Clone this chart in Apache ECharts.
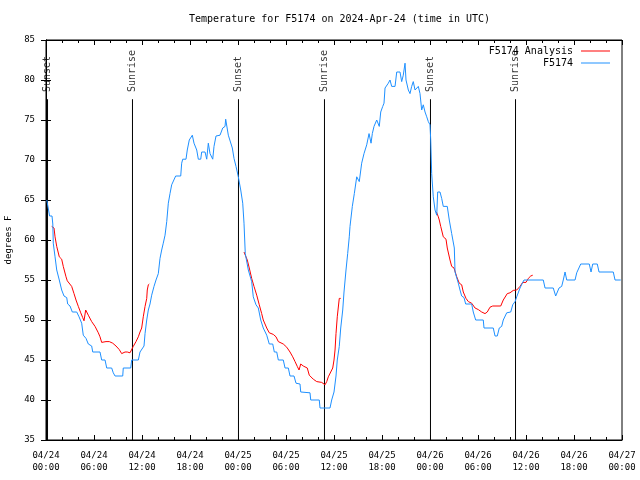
<!DOCTYPE html>
<html>
<head>
<meta charset="utf-8">
<script src="https://cdn.jsdelivr.net/npm/echarts@6/dist/echarts.min.js"></script>
<style>html,body{margin:0;padding:0;background:#fff}#c{width:640px;height:480px}</style>
</head>
<body>
<div id="c"></div>
<script>
// x values are hours since 2024-04-24 00:00 UTC
const xTickLabels = ['04/24\n00:00','04/24\n06:00','04/24\n12:00','04/24\n18:00','04/25\n00:00','04/25\n06:00','04/25\n12:00','04/25\n18:00','04/26\n00:00','04/26\n06:00','04/26\n12:00','04/26\n18:00','04/27\n00:00'];
const yTicks = [35,40,45,50,55,60,65,70,75,80,85];

const sunTimes = [0.19, 10.81, 24.06, 34.81, 48.06, 58.69];
const sunLabels = ['Sunset','Sunrise','Sunset','Sunrise','Sunset','Sunrise'];

const obsHours = [0.1,0.35,0.45,0.75,0.85,0.91,1.13,1.34,1.66,1.96,2.25,2.59,2.71,3.0,3.29,3.84,4.13,4.46,4.66,5.0,5.29,5.71,5.84,6.75,6.96,7.38,7.59,8.21,8.41,8.63,9.59,9.66,10.59,10.71,11.54,11.75,12.0,12.25,12.38,12.59,12.79,13.0,13.21,13.5,13.75,14.04,14.25,14.46,14.66,14.88,15.09,15.29,15.5,15.71,15.91,16.21,16.84,16.96,17.09,17.5,17.66,17.91,18.29,18.5,18.84,19.04,19.34,19.46,19.88,20.09,20.29,20.5,20.84,21.0,21.25,21.75,22.09,22.38,22.46,22.79,23.0,23.29,23.5,23.75,24.04,24.34,24.59,24.75,24.91,25.29,25.71,25.91,26.25,26.54,26.84,27.16,27.59,27.91,28.34,28.54,28.84,29.04,29.66,29.88,30.29,30.5,31.0,31.25,31.75,31.84,33.0,33.09,34.16,34.25,35.5,35.71,36.0,36.25,36.41,36.66,36.84,37.09,37.25,37.5,37.71,37.91,38.0,38.29,38.54,38.84,39.16,39.46,39.75,40.09,40.38,40.63,40.79,41.0,41.34,41.66,41.84,42.09,42.25,42.38,42.79,43.0,43.21,43.63,43.84,44.25,44.46,44.66,44.88,45.0,45.29,45.5,45.71,45.91,46.13,46.34,46.54,46.75,46.96,47.16,47.38,47.59,47.79,48.0,48.09,48.21,48.41,48.63,48.84,48.96,49.25,49.46,49.66,50.16,50.41,50.71,51.04,51.13,51.34,51.54,51.75,51.96,52.25,52.46,53.21,53.41,53.71,54.66,54.75,55.91,56.13,56.41,56.66,56.96,57.16,57.59,58.09,58.34,58.63,58.84,59.04,59.25,59.54,59.75,62.16,62.38,63.41,63.71,63.91,64.13,64.46,64.66,64.88,65.09,66.13,66.34,66.54,66.84,67.91,68.13,68.34,68.91,69.13,70.91,71.13,71.84];
const obsTemps = [65,65,63,63,62,59.6,57.9,56.25,55,53.75,53,52.8,52,51.75,51,51,50.4,49.6,48.1,47.7,47,46.75,46,46,45,45,44,44,43.4,43,43,44,44,45,45,46,46,46.75,48.3,50,51.25,52,53.1,54.2,55,55.8,57.7,58.75,59.6,60.6,62.3,64.6,65.8,66.9,67.1,68,68,69.6,70.1,70.1,71.25,72.5,73.1,72.1,71.25,70.1,70.1,71,71,70.1,72.1,70.8,70.1,71.7,73,73.1,74,74.2,75.1,73.1,72.9,71.5,70.2,69.2,67.9,66.25,64.6,62.1,58.3,56.25,54.8,52.9,51.9,51.5,50,49,48.1,47,47,46,46,45,45,44,44,43,43,42.1,42,41,40.9,40,40,39,39,40,41,43,45,46.7,49,51.25,53.5,56.25,58.3,60.4,61.7,64.2,65.8,67.9,67.3,69.6,70.8,71.9,73.3,72.1,73.3,74.2,75,74.2,76,76.7,77.1,79,79.6,80,79.2,79.2,81,81,79.8,80.6,82.1,80,78.75,78.3,79.2,79.8,78.75,79,79.2,78.3,76.25,76.9,76,75.4,74.8,74.4,72.5,68.3,65.4,63.75,63.1,66,66,65.2,64.2,64.2,62.5,60.8,59,56,55.8,54.6,53.75,53,52.8,52,52,51,50,50,49,49,48,48,49,49.2,50,50.9,51,51.9,52.3,52.9,53,54,54.6,55,55,54,54,53,53,54,54.2,55,56,55,55,55.9,56,57,57,56,57,57,56,56,55,55];

const anaHours = [0.71,1.0,1.13,1.34,1.66,1.96,2.16,2.5,2.66,2.91,3.21,3.5,3.75,4.04,4.34,4.59,4.75,4.96,5.29,5.71,6.13,6.54,6.75,6.96,7.5,7.91,8.34,8.75,9.16,9.46,9.66,9.88,10.16,10.5,10.71,10.91,11.25,11.54,11.75,11.96,12.16,12.38,12.59,12.66,12.79,12.91,
  18.0,
  24.75,25.0,25.16,25.41,25.71,26.0,26.34,26.66,26.96,27.16,27.59,27.91,28.41,28.75,29.04,29.66,30.09,30.5,30.84,31.13,31.41,31.63,31.84,32.16,32.66,32.91,33.41,33.84,34.46,34.88,35.09,35.29,35.59,35.84,36.0,36.13,36.25,36.41,36.66,36.84,
  42.0,
  48.81,49.04,49.16,49.34,49.66,50.0,50.16,50.5,50.71,51.0,51.34,51.66,51.96,52.16,52.5,52.79,53.21,53.63,54.04,54.46,54.88,55.16,55.5,55.84,56.84,57.16,57.66,58.0,58.41,58.84,59.25,59.59,60.0,60.29,60.59,60.84];
const anaTemps = [61.7,61.5,60.4,59.2,57.9,57.6,56.7,55.4,54.9,54.8,54.2,53.3,52.5,51.7,50.9,50.3,49.9,51.25,50.6,49.8,49.2,48.4,47.9,47.2,47.3,47.3,47.1,46.75,46.3,45.8,45.6,46,46,45.9,45.8,46.7,47.3,47.9,48.5,49,50.4,51.7,52.7,53.75,54.4,54.5,
  null,
  58.5,58.3,57.5,56.5,55.2,54.2,53.1,51.9,50.8,50,49,48.4,48.2,47.9,47.3,47,46.6,46,45.4,44.8,44.2,43.75,44.5,44.25,44,43.1,42.6,42.3,42.2,41.9,42.3,42.9,43.5,44,45,46.25,48.3,50.4,52.7,52.7,
  null,
  63.5,62.9,62.5,61.7,60.4,60.1,59,57.5,56.7,56.5,55.4,54.6,54.4,53.5,52.7,52.3,52.1,51.5,51.3,51,50.8,51,51.6,51.75,51.75,52.5,53.3,53.4,53.7,53.75,54.2,54.7,54.7,55.2,55.5,55.6];

const FONT = 'DejaVu Sans Mono';
const zip = (a, b) => a.map((v, i) => [v, b[i]]);

const sunSeries = sunTimes.map((t, i) => ({
  type: 'line', silent: true, symbol: 'none', z: 1,
  lineStyle: { color: '#000', width: 1 },
  data: [[t, 77.6], [t, 35]]
}));

const chart = echarts.init(document.getElementById('c'), null, { renderer: 'canvas' });
chart.setOption({
  animation: false,
  backgroundColor: '#fff',
  title: {
    text: 'Temperature for F5174 on 2024-Apr-24 (time in UTC)',
    left: 184, top: 9,
    textStyle: { fontFamily: FONT, fontSize: 10, fontWeight: 'normal', color: '#000' }
  },
  legend: {
    data: ['F5174 Analysis', 'F5174'],
    orient: 'vertical', right: 25, top: 41, align: 'right',
    icon: 'rect', itemWidth: 29, itemHeight: 1, itemGap: 2,
    textStyle: { fontFamily: FONT, fontSize: 10, color: '#000', padding: [0, 3, 0, 0] }
  },
  grid: { left: 46, right: 18, top: 40, bottom: 40, show: true, borderColor: '#000', borderWidth: 1,
    containLabel: false, outerBoundsMode: 'none' },
  xAxis: [{
    type: 'value', min: 0, max: 72, interval: 6,
    axisLine: { lineStyle: { color: '#000' } },
    axisTick: { inside: true, length: 5, lineStyle: { color: '#000' } },
    minorTick: { show: true, splitNumber: 3, length: 3, lineStyle: { color: '#000' } },
    splitLine: { show: false },
    axisLabel: { margin: 10, fontFamily: FONT, fontSize: 9, color: '#000', lineHeight: 12,
      formatter: v => xTickLabels[Math.round(v / 6)] }
  }, {
    type: 'value', min: 0, max: 72, interval: 6, position: 'top',
    axisLine: { lineStyle: { color: '#000' } },
    axisTick: { inside: true, length: 5, lineStyle: { color: '#000' } },
    minorTick: { show: true, splitNumber: 3, length: 3, lineStyle: { color: '#000' } },
    splitLine: { show: false }, axisLabel: { show: false }
  }],
  yAxis: [{
    type: 'value', min: yTicks[0], max: yTicks[yTicks.length - 1], interval: 5,
    name: 'degrees F', nameLocation: 'middle', nameGap: 33,
    nameTextStyle: { fontFamily: FONT, fontSize: 9, color: '#000' },
    axisLine: { show: true, lineStyle: { color: '#000' } },
    axisTick: { show: true, inside: true, length: 5, lineStyle: { color: '#000' } },
    splitLine: { show: false },
    axisLabel: { margin: 11, fontFamily: FONT, fontSize: 9, color: '#000' }
  }, {
    type: 'value', min: yTicks[0], max: yTicks[yTicks.length - 1], interval: 5, position: 'right',
    axisLine: { show: true, lineStyle: { color: '#000' } },
    axisTick: { show: true, inside: true, length: 5, lineStyle: { color: '#000' } },
    splitLine: { show: false }, axisLabel: { show: false }
  }],
  series: [
    ...sunSeries,
    {
      type: 'scatter', silent: true, symbolSize: 0, z: 3,
      data: sunTimes.map((t, i) => ({ value: [t, 78.5], name: sunLabels[i] })),
      label: { show: true, position: 'inside', rotate: 90, align: 'left', verticalAlign: 'middle',
        offset: [0, 0], formatter: p => p.name, fontFamily: FONT, fontSize: 10, color: '#000' }
    },
    {
      name: 'F5174 Analysis', type: 'line', symbol: 'none', connectNulls: false, z: 4,
      lineStyle: { color: '#ff0000', width: 1 }, itemStyle: { color: '#ff0000' },
      data: zip(anaHours, anaTemps)
    },
    {
      name: 'F5174', type: 'line', symbol: 'none', z: 5,
      lineStyle: { color: '#1e90ff', width: 1 }, itemStyle: { color: '#1e90ff' },
      data: zip(obsHours, obsTemps)
    }
  ]
});
</script>
</body>
</html>
